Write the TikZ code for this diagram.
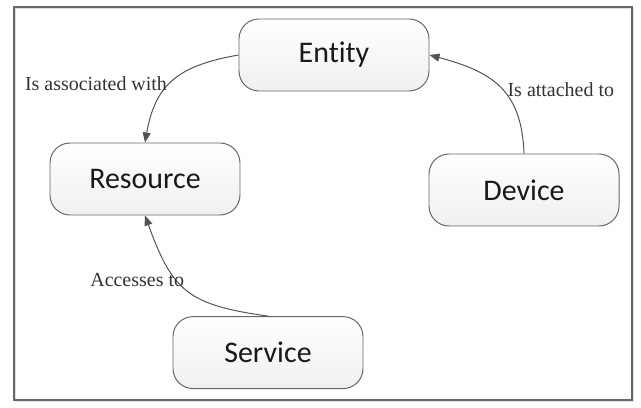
\documentclass[tikz,border=0pt]{standalone}
\usepackage{fontspec}
\setmainfont{Liberation Serif}
\newfontfamily\boxfont[Ligatures=NoCommon]{Carlito}
\usetikzlibrary{arrows.meta}
\tikzset{
	thing/.style={draw=gray!80!black, line width=0.7pt, rounded corners=0.5cm, minimum width=4.75cm, minimum height=1.8cm, top color=white, bottom color=gray!12, text=black!90, font=\boxfont\fontsize{21.3}{25}\selectfont},
	rel/.style={draw=gray!65!black, line width=0.7pt, -{Triangle[length=2.5mm,width=2mm]}},
	lbl/.style={text=black!80, font=\fontsize{14.2}{17}\selectfont}
}
\begin{document}
\begin{tikzpicture}%MODEL
			\useasboundingbox (0,0) rectangle (16.025,10.175);
			\draw[gray!25, line width=1pt] (0.39,0.135) rectangle (15.84,9.96);
			\draw[gray!80!black, line width=1.2pt] (0.35,0.175) rectangle (15.8,10);
			\node[thing] (entity) at (8.35,8.8) {Entity};
			\node[thing] (resource) at (3.625,5.7) {Resource};
			\node[thing] (device) at (13.1,5.425) {Device};
			\node[thing] (service) at (6.7,1.36) {Service};
			\draw[rel] (entity.west) to[out=190,in=80,looseness=1.2] (resource.north);
			\draw[rel] (device.north) to[out=92,in=-15,looseness=1.2] (entity.east);
			\draw[rel] (service.north) to[out=172,in=-70,looseness=1.3] (resource.south);
			\node[lbl] (assoc) at (2.4,8.08) {Is associated with};
			\node[lbl] (attach) at (14.02,7.93) {Is attached to};
			\node[lbl] (access) at (3.43,3.18) {Accesses to};
			\end{tikzpicture}
\end{document}
